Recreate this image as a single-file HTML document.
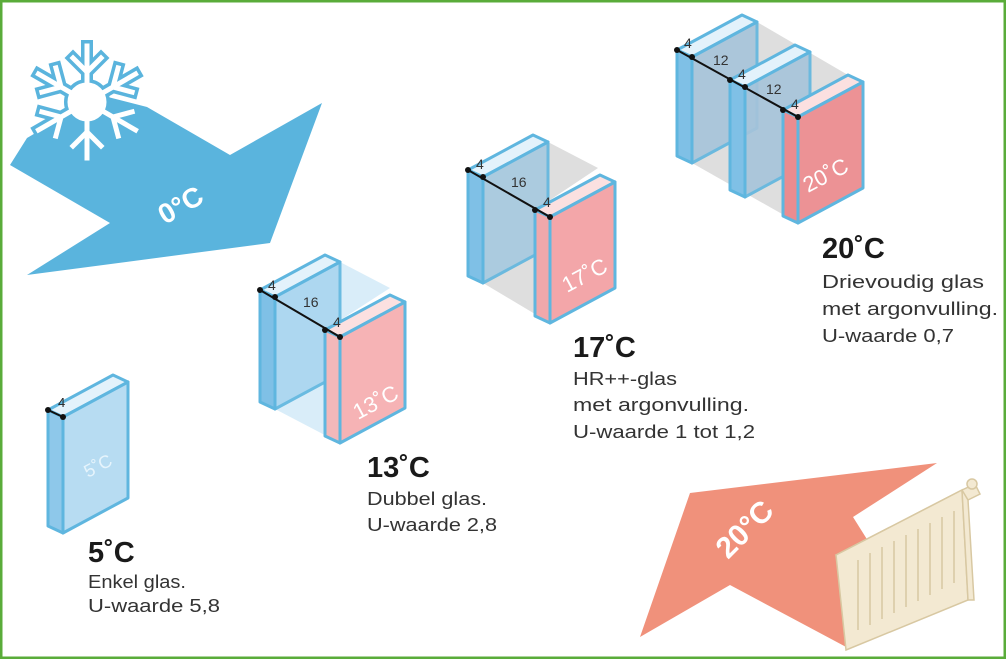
<!DOCTYPE html>
<html><head><meta charset="utf-8"><style>
html,body{margin:0;padding:0;background:#fff}
svg{display:block}
text{font-family:"Liberation Sans",sans-serif}
</style></head><body>
<svg width="1006" height="659" viewBox="0 0 1006 659" xmlns="http://www.w3.org/2000/svg">
<rect x="1" y="1" width="1004" height="657" fill="#fff" stroke="#5aac3a" stroke-width="3"/>

<!-- blue arrow -->
<polygon points="10,165 27,138 100,95 147,107 230,155 322,103 270,243 27,275 110,223" fill="#5ab4dd"/>
<defs>
<g id="arm"><path d="M0,-16 L0,-56 M0,-30 L-14,-44 M0,-30 L14,-44" fill="none"/></g>
<g id="flake">
<use href="#arm"/><use href="#arm" transform="rotate(60)"/><use href="#arm" transform="rotate(120)"/>
<use href="#arm" transform="rotate(180)"/><use href="#arm" transform="rotate(240)"/><use href="#arm" transform="rotate(300)"/>
<circle r="17"/>
</g>
</defs>
<g transform="translate(87,102)">
<use href="#flake" stroke="#5ab4dd" stroke-width="12" fill="#5ab4dd" stroke-linecap="square"/>
<use href="#flake" stroke="#fff" stroke-width="5" fill="#fff" stroke-linecap="square"/>
</g>
<text transform="translate(165,225) rotate(-30)" font-size="28" font-weight="bold" fill="#fff">0°C</text>

<!-- pink arrow -->
<polygon points="640,637 690,493 937,463 853,517 880,560 848,648 730,585" fill="#f0917b"/>
<text transform="translate(728,560) rotate(-45)" font-size="30" font-weight="bold" fill="#fff">20°C</text>
<g stroke="#d8c8a2" stroke-width="1.5" fill="#f3e9d2">
<polygon points="836,555 962,490 975,484 980,494 968,500 846,565"/>
<polygon points="836,555 962,490 968,600 846,650"/>
<polygon points="962,490 968,500 974,600 968,600"/>
<circle cx="972" cy="484" r="5"/>
<path fill="none" d="M858,560 v70 M870,553 v72 M882,547 v72 M894,541 v72 M906,535 v72 M918,529 v72 M930,523 v72 M942,517 v72 M954,511 v72"/>
</g>

<!-- single pane -->
<g stroke="#5fb6df" stroke-width="3" stroke-linejoin="round">
<polygon points="48,410 113,375 128,382 63,417" fill="#e3f2fb"/>
<polygon points="48,410 63,417 63,533 48,526" fill="#8ec8ea"/>
<polygon points="63,417 128,382 128,498 63,533" fill="#b7dcf2"/>
</g>
<text transform="translate(88,478) rotate(-28)" font-size="18" fill="#e6f4fc">5˚C</text>
<line x1="48" y1="410" x2="63" y2="417" stroke="#111" stroke-width="2"/>
<circle cx="48" cy="410" r="3" fill="#111"/><circle cx="63" cy="417" r="3" fill="#111"/>
<text x="58" y="407" font-size="13" fill="#222">4</text>

<!-- double pane 13 -->
<polygon points="275,297 340,262 390,288 325,330 340,443 275,409" fill="#cfe8f7" opacity="0.8"/>
<g stroke="#5fb6df" stroke-width="3" stroke-linejoin="round">
<polygon points="260,290 325,255 340,262 275,297" fill="#e3f2fb"/>
<polygon points="260,290 275,297 275,409 260,402" fill="#7fc0e6"/>
<polygon points="275,297 340,262 340,374 275,409" fill="#a9d5f0" opacity="0.9"/>
<polygon points="325,330 390,295 405,302 340,337" fill="#fbe0e0"/>
<polygon points="325,330 340,337 340,443 325,436" fill="#f2b8ba"/>
<polygon points="340,337 405,302 405,408 340,443" fill="#f6b3b5"/>
</g>
<text transform="translate(358,420) rotate(-28)" font-size="22" fill="#fff">13˚C</text>
<line x1="260" y1="290" x2="340" y2="337" stroke="#111" stroke-width="2"/>
<g fill="#111"><circle cx="260" cy="290" r="3"/><circle cx="275" cy="297" r="3"/><circle cx="325" cy="330" r="3"/><circle cx="340" cy="337" r="3"/></g>
<g font-size="14" fill="#333"><text x="268" y="290">4</text><text x="303" y="307">16</text><text x="333" y="327">4</text></g>

<!-- 17 -->
<polygon points="483,177 548,142 598,168 535,210 550,323 483,283" fill="#d6d6d6" opacity="0.8"/>
<g stroke="#5fb6df" stroke-width="3" stroke-linejoin="round">
<polygon points="468,170 533,135 548,142 483,177" fill="#e3f2fb"/>
<polygon points="468,170 483,177 483,283 468,276" fill="#7fc0e6"/>
<polygon points="483,177 548,142 548,248 483,283" fill="#a6c9e0" opacity="0.9"/>
<polygon points="535,210 600,175 615,182 550,217" fill="#fbe0e0"/>
<polygon points="535,210 550,217 550,323 535,316" fill="#f0a8ab"/>
<polygon points="550,217 615,182 615,288 550,323" fill="#f3a6a9"/>
</g>
<text transform="translate(567,293) rotate(-28)" font-size="22" fill="#fff">17˚C</text>
<line x1="468" y1="170" x2="550" y2="217" stroke="#111" stroke-width="2"/>
<g fill="#111"><circle cx="468" cy="170" r="3"/><circle cx="483" cy="177" r="3"/><circle cx="535" cy="210" r="3"/><circle cx="550" cy="217" r="3"/></g>
<g font-size="14" fill="#333"><text x="476" y="169">4</text><text x="511" y="187">16</text><text x="543" y="207">4</text></g>

<!-- 20 triple -->
<polygon points="692,57 757,22 848,75 783,115 798,223 692,163" fill="#d6d6d6" opacity="0.8"/>
<g stroke="#5fb6df" stroke-width="3" stroke-linejoin="round">
<polygon points="677,50 742,15 757,22 692,57" fill="#e3f2fb"/>
<polygon points="677,50 692,57 692,163 677,156" fill="#7fc0e6"/>
<polygon points="692,57 757,22 757,128 692,163" fill="#a6c4da" opacity="0.9"/>
<polygon points="730,80 795,45 810,52 745,87" fill="#e3f2fb"/>
<polygon points="730,80 745,87 745,197 730,190" fill="#7fc0e6"/>
<polygon points="745,87 810,52 810,162 745,197" fill="#a6c4da" opacity="0.9"/>
<polygon points="783,110 848,75 863,82 798,117" fill="#fbe0e0"/>
<polygon points="783,110 798,117 798,223 783,216" fill="#ea8c90"/>
<polygon points="798,117 863,82 863,188 798,223" fill="#ec9295"/>
</g>
<text transform="translate(808,193) rotate(-28)" font-size="22" fill="#fff">20˚C</text>
<line x1="677" y1="50" x2="798" y2="117" stroke="#111" stroke-width="2"/>
<g fill="#111"><circle cx="677" cy="50" r="3"/><circle cx="692" cy="57" r="3"/><circle cx="730" cy="80" r="3"/><circle cx="745" cy="87" r="3"/><circle cx="783" cy="110" r="3"/><circle cx="798" cy="117" r="3"/></g>
<g font-size="14" fill="#333"><text x="684" y="48">4</text><text x="713" y="65">12</text><text x="738" y="79">4</text><text x="766" y="94">12</text><text x="791" y="109">4</text></g>

<!-- labels -->
<g fill="#1a1a1a">
<text x="88" y="562" font-size="29" font-weight="bold">5˚C</text>
<g font-size="18" fill="#333" lengthAdjust="spacingAndGlyphs">
<text x="88" y="588" textLength="98" lengthAdjust="spacingAndGlyphs">Enkel glas.</text>
<text x="88" y="612" textLength="132" lengthAdjust="spacingAndGlyphs">U-waarde 5,8</text>
<text x="367" y="505" textLength="120" lengthAdjust="spacingAndGlyphs">Dubbel glas.</text>
<text x="367" y="531" textLength="130" lengthAdjust="spacingAndGlyphs">U-waarde 2,8</text>
<text x="573" y="385" textLength="104" lengthAdjust="spacingAndGlyphs">HR++-glas</text>
<text x="573" y="411" textLength="176" lengthAdjust="spacingAndGlyphs">met argonvulling.</text>
<text x="573" y="438" textLength="182" lengthAdjust="spacingAndGlyphs">U-waarde 1 tot 1,2</text>
<text x="822" y="288" textLength="162" lengthAdjust="spacingAndGlyphs">Drievoudig glas</text>
<text x="822" y="315" textLength="176" lengthAdjust="spacingAndGlyphs">met argonvulling.</text>
<text x="822" y="342" textLength="132" lengthAdjust="spacingAndGlyphs">U-waarde 0,7</text>
</g>
<text x="367" y="477" font-size="29" font-weight="bold">13˚C</text>
<text x="573" y="357" font-size="29" font-weight="bold">17˚C</text>
<text x="822" y="258" font-size="29" font-weight="bold">20˚C</text>
</g>
</svg>
</body></html>
